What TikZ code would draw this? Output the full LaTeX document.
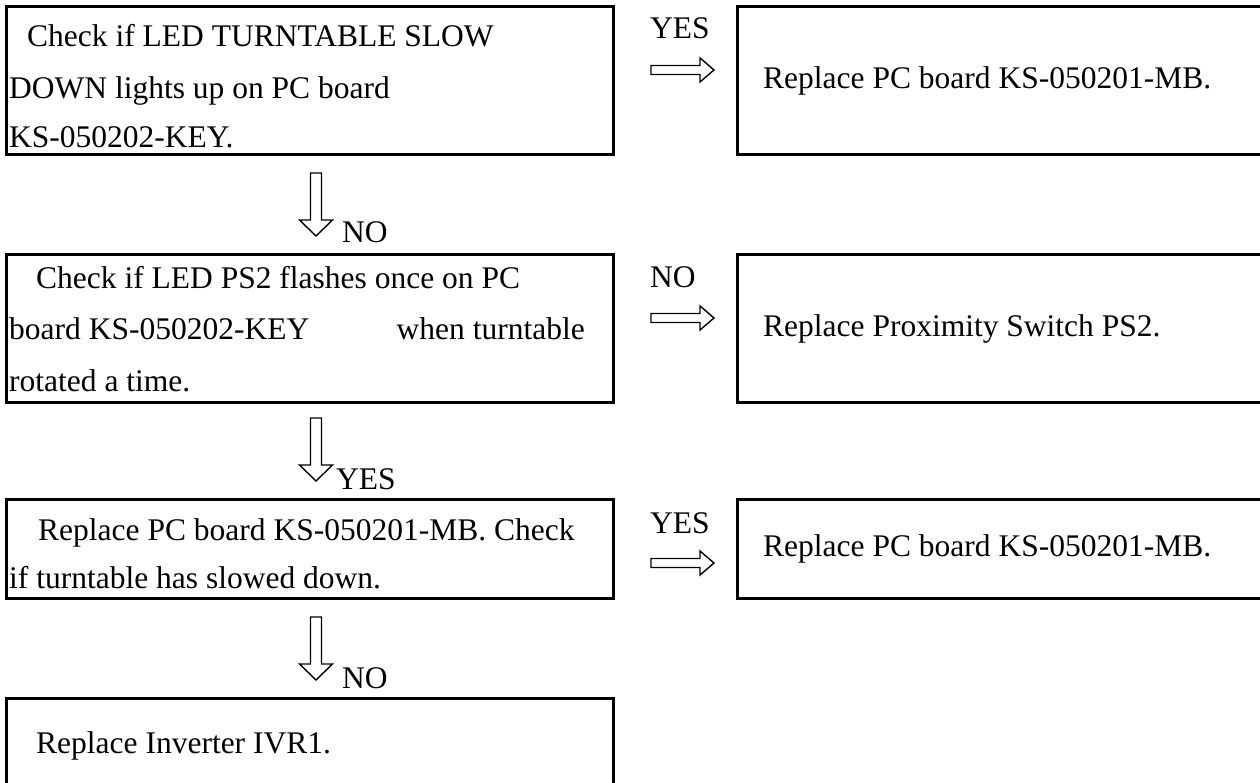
\documentclass[tikz,border=0pt]{standalone}
\usepackage{fontspec}
\setmainfont{Liberation Serif}
\begin{document}
\begin{tikzpicture}[x=1pt,y=-1pt,
  box/.style={draw,line width=3pt,inner sep=0pt,anchor=north west},
  txt/.style={anchor=base west,inner sep=0pt,font=\fontsize{31.5}{36}\selectfont},
  lbl/.style={anchor=base west,inner sep=0pt,font=\fontsize{31.5}{36}\selectfont},
  blockarrow/.style={draw,line width=1.4pt,fill=white,line join=miter},
  pics/downarrow/.style={code={\draw[blockarrow] (-5.5,0) -- (-5.5,47) -- (-16.5,47) -- (0,63) -- (16.5,47) -- (5.5,47) -- (5.5,0) -- cycle;}},
  pics/rightarrow/.style={code={\draw[blockarrow] (0,-4.5) -- (49,-4.5) -- (49,-12) -- (63,0) -- (49,12) -- (49,4.5) -- (0,4.5) -- cycle;}}
]
\useasboundingbox (0,0) rectangle (1260,783);
\clip (0,0) rectangle (1260,783);
\fill[white] (0,0) rectangle (1260,783);

% boxes
\node[box,minimum width=607pt,minimum height=148pt] (b1) at (5,5) {};
\node[box,minimum width=600pt,minimum height=148pt] (r1) at (736,5) {};
\node[box,minimum width=607pt,minimum height=148pt] (b2) at (5,253) {};
\node[box,minimum width=600pt,minimum height=148pt] (r2) at (736,253) {};
\node[box,minimum width=607pt,minimum height=99pt] (b3) at (5,498) {};
\node[box,minimum width=600pt,minimum height=99pt] (r3) at (736,498) {};
\node[box,minimum width=607pt,minimum height=120pt] (b4) at (5,697) {};

% row 1 texts
\node[txt] (t11) at (27,47) {Check if LED TURNTABLE SLOW};
\node[txt] (t12) at (9,99) {DOWN lights up on PC board};
\node[txt] (t13) at (9,148) {KS-050202-KEY.};
\node[txt] (tr1) at (763,89) {Replace PC board KS-050201-MB.};

% row 2 texts
\node[txt] (t21) at (36,289) {Check if LED PS2 flashes once on PC};
\node[txt] (t22) at (9,340) {board KS-050202-KEY};
\node[txt,anchor=base east] (t22b) at (585,340) {when turntable};
\node[txt] (t23) at (9,391) {rotated a time.};
\node[txt] (tr2) at (763,337) {Replace Proximity Switch PS2.};

% row 3 texts
\node[txt] (t31) at (38,540) {Replace PC board KS-050201-MB. Check};
\node[txt] (t32) at (9,588) {if turntable has slowed down.};
\node[txt] (tr3) at (763,556) {Replace PC board KS-050201-MB.};

% row 4 text
\node[txt] (t41) at (36,753) {Replace Inverter IVR1.};

% horizontal arrows and labels
\pic (ha1) at (651,70) {rightarrow};
\node[lbl] (l1) at (650,39) {YES};
\pic (ha2) at (651,318) {rightarrow};
\node[lbl] (l2) at (650,288) {NO};
\pic (ha3) at (651,563) {rightarrow};
\node[lbl] (l3) at (650,533) {YES};

% vertical arrows and labels
\pic (va1) at (316,173) {downarrow};
\node[lbl] (d1) at (342,243) {NO};
\pic (va2) at (316,418) {downarrow};
\node[lbl] (d2) at (336,489) {YES};
\pic (va3) at (316,617) {downarrow};
\node[lbl] (d3) at (342,688) {NO};
\end{tikzpicture}
\end{document}
